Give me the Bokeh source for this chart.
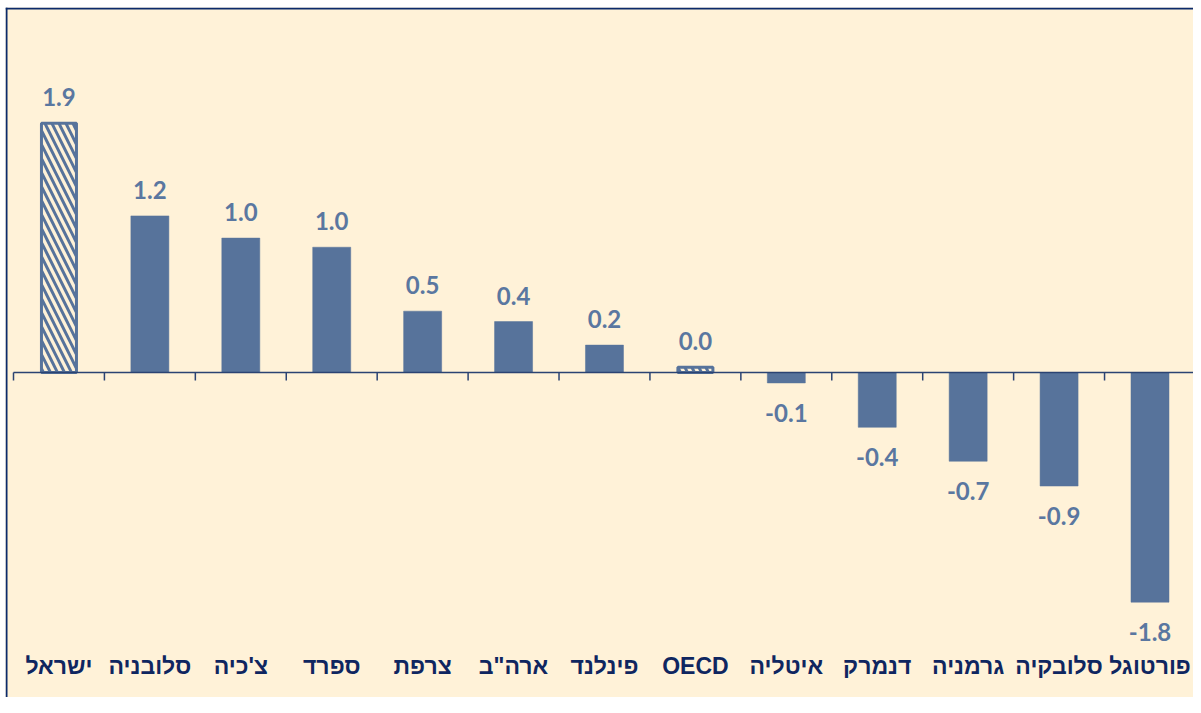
import numpy as np
from bokeh.plotting import figure
from bokeh.models import Range1d, ColumnDataSource, Span
from bokeh.core.properties import value
from bokeh.embed import file_html
from bokeh.resources import INLINE

# ---- data ----
categories = ["ישראל", "סלובניה", "צ'כיה", "ספרד", "צרפת", 'ארה"ב', "פינלנד",
              "OECD", "איטליה", "דנמרק", "גרמניה", "סלובקיה", "פורטוגל"]
values = [1.91, 1.20, 1.03, 0.96, 0.47, 0.39, 0.21, 0.04, -0.08, -0.42, -0.68, -0.87, -1.76]
hatched = ["ישראל", "OECD"]

# ---- styles ----
BG = "#FFF2D8"
BAR = "#57739B"
LABEL = "#5A77A0"
NAVY = "#0F2660"
BORDER = "#0B2A6B"
AXIS = "#2B4372"

n = len(categories)
xs = np.arange(n) + 0.5
labels = [f"{v:.1f}" for v in values]
is_h = [c in hatched for c in categories]

W, H = 1193, 697
ML, MT = 5, 7
FW, FH = W - ML, H - MT
cat_px = 90.92
px_per_unit = 130.5
zero_px = 372 - MT
x0 = -(13 - ML) / cat_px
p = figure(width=W, height=H, output_backend="svg", toolbar_location=None,
           x_range=Range1d(x0, x0 + FW / cat_px),
           y_range=Range1d(-(FH - zero_px) / px_per_unit, zero_px / px_per_unit),
           x_axis_type=None, y_axis_type=None,
           min_border_left=ML, min_border_top=MT, min_border_right=0, min_border_bottom=0)
p.grid.visible = False
p.background_fill_color = BG
p.border_fill_color = "white"
p.outline_line_color = None

# chart-area border (left and top)
p.add_layout(Span(location=x0 + 1 / cat_px, dimension="height", line_color=BORDER, line_width=2))
p.add_layout(Span(location=zero_px / px_per_unit - 1 / px_per_unit, dimension="width",
                  line_color=BORDER, line_width=2))

solid = ColumnDataSource(dict(x=[x for x, h in zip(xs, is_h) if not h],
                              top=[v for v, h in zip(values, is_h) if not h]))
hat = ColumnDataSource(dict(x=[x for x, h in zip(xs, is_h) if h],
                            top=[v for v, h in zip(values, is_h) if h]))

p.vbar(x="x", top="top", bottom=0, width=0.418, source=solid,
       fill_color=BAR, line_color=BAR, line_width=0.5)
p.vbar(x="x", top="top", bottom=0, width=0.385, source=hat,
       fill_color=BG, line_color=BAR, line_width=3,
       hatch_pattern="\\", hatch_color=BAR, hatch_weight=3, hatch_scale=14)

# axis line at zero with ticks between categories
p.segment(x0=[0], y0=[0], x1=[n], y1=[0], line_color=AXIS, line_width=1.5)
tx = np.arange(n + 1)
p.segment(x0=tx, y0=np.zeros(n + 1), x1=tx, y1=np.full(n + 1, -8 / px_per_unit),
          line_color=AXIS, line_width=1.5)

# value labels
pos = ColumnDataSource(dict(x=[x for x, v in zip(xs, values) if v >= 0],
                            y=[v for v in values if v >= 0],
                            t=[l for l, v in zip(labels, values) if v >= 0]))
neg = ColumnDataSource(dict(x=[x for x, v in zip(xs, values) if v < 0],
                            y=[v for v in values if v < 0],
                            t=[l for l, v in zip(labels, values) if v < 0]))
for src, off in ((pos, -26), (neg, 30)):
    p.text(x="x", y="y", text="t", source=src, y_offset=off,
           text_align="center", text_baseline="alphabetic",
           text_font=value("Lato"), text_font_style="bold",
           text_font_size="24px", text_color=LABEL)

# category labels
cat_y = -(665 - 372) / px_per_unit
p.text(x=xs, y=np.full(n, cat_y), text=categories,
       text_align="center", text_baseline="middle",
       text_font=value("Liberation Sans"), text_font_style="bold",
       text_font_size="23px", text_color=NAVY)

open("out.html", "w").write(file_html(p, INLINE))
